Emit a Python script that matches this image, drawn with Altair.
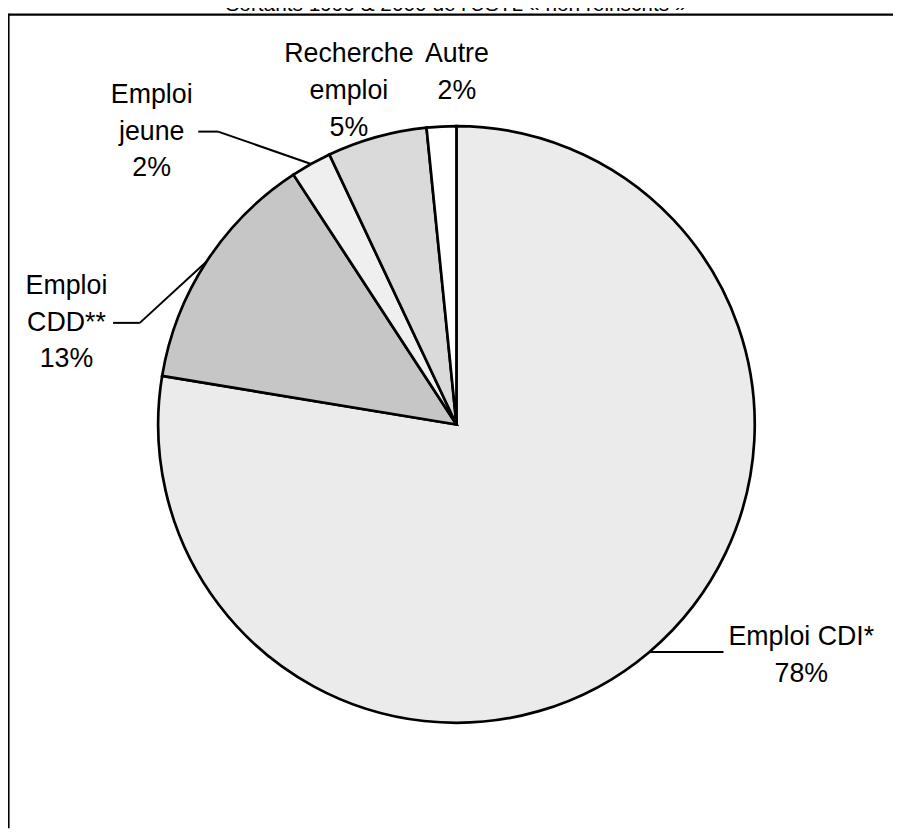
import math
import altair as alt
import pandas as pd

# ---------------- data ----------------
categories = ["Emploi CDI*", "Emploi CDD**", "Emploi jeune", "Recherche emploi", "Autre"]
values = [77.6, 13.2, 2.2, 5.4, 1.6]
name_lines = [["Emploi CDI*"], ["Emploi", "CDD**"], ["Emploi", "jeune"], ["Recherche", "emploi"], ["Autre"]]
title_text = "- Sortants 1999 & 2000 de l'USTL « non réinscrits » -"

# ---------------- styles / layout ----------------
fills = ["#ebebeb", "#c6c6c6", "#efefef", "#dadada", "#ffffff"]
FONT = "Liberation Sans, Arial, sans-serif"
W, H = 893, 824          # chart size (page minus 8px margin)
OX, OY = 8, 8            # page margin
CX, CY, R = 460.5 - OX, 424.5 - OY, 301   # pie centre / radius in chart pixels
FS, LH = 27, 37

# label anchor (page px): centre x, first baseline y
label_pos = {
    "Emploi CDI*": (808.5, 647),
    "Emploi CDD**": (67, 293),
    "Emploi jeune": (153, 100),
    "Recherche emploi": (352, 59),
    "Autre": (461, 59),
}
# leader lines: label side points (page px) followed by the slice edge
leader_side = {
    "Emploi CDD**": [(114, 322), (141, 322)],
    "Emploi jeune": [(200, 129), (220, 129)],
}

total = sum(values)
cum = 0.0
edge = {}
for c, v in zip(categories, values):
    mid = (cum + v / 2) / total * 2 * math.pi
    edge[c] = (CX + R * math.sin(mid), CY - R * math.cos(mid))
    cum += v

pie_df = pd.DataFrame({"cat": categories, "value": values, "order": list(range(len(categories)))})

lab_rows = []
for c, v, nl in zip(categories, values, name_lines):
    px, py = label_pos[c]
    lab_rows.append({"x": px - OX, "y": py - OY, "text": "\n".join(nl + [f"{round(v / total * 100)}%"])})
lab_df = pd.DataFrame(lab_rows)

seg_rows = []
for c, pts in leader_side.items():
    p = [(x - OX, y - OY) for x, y in pts] + [edge[c]]
    for a, b in zip(p[:-1], p[1:]):
        seg_rows.append({"x": a[0], "y": a[1], "x2": b[0], "y2": b[1]})
ex, ey = edge["Emploi CDI*"]
seg_rows.append({"x": ex, "y": ey, "x2": 730 - OX, "y2": ey})
seg_df = pd.DataFrame(seg_rows)

xs = alt.Scale(domain=[0, W], range=[0, W], nice=False, zero=False)
ys = alt.Scale(domain=[0, H], range=[0, H], nice=False, zero=False)

pie = alt.Chart(pie_df).mark_arc(outerRadius=R, stroke="black", strokeWidth=2.7, strokeJoin="miter").encode(
    theta=alt.Theta("value:Q", stack=True),
    order=alt.Order("order:Q"),
    color=alt.Color("cat:N", scale=alt.Scale(domain=categories, range=fills), legend=None),
    x=alt.value(CX),
    y=alt.value(CY),
)

leaders = alt.Chart(seg_df).mark_rule(color="black", strokeWidth=2).encode(
    x=alt.X("x:Q", scale=xs, axis=None),
    y=alt.Y("y:Q", scale=ys, axis=None),
    x2="x2:Q",
    y2="y2:Q",
)

labels = alt.Chart(lab_df).mark_text(
    align="center", baseline="alphabetic", font=FONT, fontSize=FS, lineBreak="\n", lineHeight=LH, color="black"
).encode(
    x=alt.X("x:Q", scale=xs, axis=None),
    y=alt.Y("y:Q", scale=ys, axis=None),
    text="text:N",
)

title = alt.Chart(pd.DataFrame({"t": [title_text]})).mark_text(
    align="center", baseline="alphabetic", font=FONT, fontSize=21, color="black"
).encode(x=alt.value(460 - OX), y=alt.value(7 - OY), text="t:N")

frame_df = pd.DataFrame({"k": [0]})
frame_top = alt.Chart(frame_df).mark_rule(color="black", strokeWidth=2.2).encode(
    x=alt.value(0), x2=alt.value(W), y=alt.value(11 - OY)
)
frame_left = alt.Chart(frame_df).mark_rule(color="black", strokeWidth=2.2).encode(
    x=alt.value(0.5), y=alt.value(10 - OY), y2=alt.value(H)
)

chart = alt.layer(pie, leaders, labels, title, frame_top, frame_left).properties(
    width=W, height=H, autosize=alt.AutoSizeParams(type="none"), padding=0
).configure_view(stroke=None)

chart.save("out.html", embed_options={"renderer": "svg", "actions": False})
